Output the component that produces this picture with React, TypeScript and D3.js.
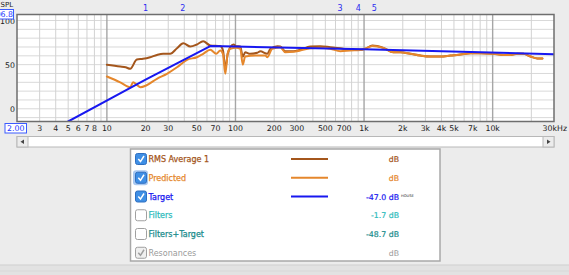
import React from 'react';
import * as d3 from 'd3';

// ---- data ----
const rmsFreq = [10, 12.7, 14, 15.2, 17.1, 19.1, 21.7, 24.5, 27.4, 31.1, 35.1, 39.3, 44.5, 50.1, 56.1, 63.7, 76.2, 80, 83.4, 87, 91.2, 96.6, 101, 109, 114, 119, 130, 148, 156, 177, 187, 212, 223, 244, 282, 319, 382, 457, 547, 654, 782, 935, 1023, 1161, 1414, 1690, 1916, 2291, 2742, 3281, 3925, 4696, 5617, 6723, 8046, 10140, 12130, 13750, 15580, 17340, 19680, 22300, 24380];
const rmsDb = [50, 48, 47, 45.3, 55.8, 56.6, 58.4, 61, 62.3, 62.3, 68.6, 74.3, 70.5, 72.8, 76.5, 71.7, 71, 66, 46, 62, 70, 72.8, 71, 70.5, 59, 64, 62.3, 63.4, 65.2, 62.3, 68, 70.9, 70.5, 65.2, 65.2, 66.8, 70.5, 70.9, 69.8, 68.6, 66.8, 66.8, 68, 71.7, 69, 64, 64, 62.3, 60.3, 59.2, 59.2, 60.3, 61.5, 63, 63, 62.3, 61, 61, 62.3, 62.3, 59.2, 57, 57];
const predFreq = [10, 12.7, 15.2, 16.0, 17.1, 18.2, 20.2, 24.5, 29.3, 35.1, 42, 50.1, 56.1, 63.7, 70.9, 76.2, 80, 83.4, 87, 91.2, 101, 109, 114, 119, 143, 171, 177, 193, 223, 244, 282, 319, 382, 457, 547, 654, 782, 935, 1023, 1161, 1414, 1690, 1916, 2291, 2742, 3281, 3925, 4696, 5617, 6723, 8046, 10140, 12130, 13750, 15580, 17340, 19680, 22300, 24380];
const predDb = [36.6, 30, 24.5, 30, 27, 24.5, 26.4, 34, 39.6, 47, 55.5, 58.4, 62.3, 66.8, 62.3, 66, 62, 39.6, 63, 68, 69, 68, 50, 59.2, 60.3, 60.3, 58.4, 68, 69.8, 64, 64.5, 66, 68.5, 69, 68, 65.2, 66, 66.5, 68, 71.2, 69, 64, 64, 62.3, 60.3, 59.2, 59.2, 60.3, 61.5, 63, 63, 62.3, 61, 61, 62.3, 62.3, 59.2, 57, 57];
const targetFreq = [5, 20, 63.7, 100, 1000, 30000];
const targetDb = [-14.4, 33, 71, 70.5, 67.3, 61.8];

const yDomain = [-14.4, 106.8];
const yLabels = [0, 50, 100];
const yGrid = [-10, 0, 10, 20, 30, 40, 50, 60, 70, 80, 90, 100];
const xTickVals = [3, 4, 5, 6, 7, 8, 10, 20, 30, 50, 70, 100, 200, 300, 500, 700, 1000, 2000, 3000, 4000, 5000, 7000, 10000];
const xTickText = ['3', '4', '5', '6', '7', '8', '10', '20', '30', '50', '70', '100', '200', '300', '500', '700', '1k', '2k', '3k', '4k', '5k', '7k', '10k'];
const markerFreqs = [20, 39, 650, 900, 1200];
const markerText = ['1', '2', '3', '4', '5'];

const legendNames = ['RMS Average 1', 'Predicted', 'Target', 'Filters', 'Filters+Target', 'Resonances'];
const legendValues = ['dB', 'dB', '-47.0 dB', '-1.7 dB', '-48.7 dB', 'dB'];
const legendChecked = [true, true, true, false, false, true];
const legendColors = ['#a4561c', '#e5872c', '#1818f0', '#2fbcbc', '#1a8c8c', '#9a9a9a'];
const legendHasLine = [true, true, true, false, false, false];

const FONT = '"DejaVu Sans", sans-serif';

export default function App() {
  const W = 569, H = 275;
  const L = 17, R = 554, T = 14.5, B = 121.5;
  const x = d3.scaleLog().domain([2, 30000]).range([L, R]);
  const y = d3.scaleLinear().domain(yDomain).range([B, T]);

  const minor: number[] = [];
  [1, 10, 100, 1000, 10000].forEach((d) => {
    for (let k = 1; k <= 9; k++) {
      const f = d * k;
      if (f > 2 && f < 30000) minor.push(f);
    }
  });
  const decades = [10, 100, 1000, 10000];

  const line = d3
    .line<[number, number]>()
    .x((d) => x(d[0]))
    .y((d) => y(d[1]))
    .curve(d3.curveMonotoneX);

  const rms = line(rmsFreq.map((f, i) => [f, rmsDb[i]]) as [number, number][]);
  const pred = line(predFreq.map((f, i) => [f, predDb[i]]) as [number, number][]);
  const tgt = d3
    .line<[number, number]>()
    .x((d) => x(d[0]))
    .y((d) => y(d[1]))(targetFreq.map((f, i) => [f, targetDb[i]]) as [number, number][]);

  const rowY = (i: number) => 159 + i * 18.75;

  return (
    <svg width={W} height={H} style={{ position: 'fixed', left: 0, top: 0 }} fontFamily={FONT}>
      <rect x={0} y={0} width={W} height={H} fill="#ececec" />
      <defs>
        <clipPath id="plotclip">
          <rect x={L} y={T} width={R - L} height={B - T} />
        </clipPath>
      </defs>
      {/* plot background */}
      <rect x={L} y={T} width={R - L} height={B - T} fill="#ffffff" />
      {/* horizontal grid */}
      {yGrid.map((v) => (
        <line key={'h' + v} x1={L} x2={R} y1={y(v)} y2={y(v)} stroke="#d9d9d9" strokeWidth={1} />
      ))}
      {/* vertical grid */}
      {minor.map((f) => (
        <line key={'v' + f} x1={x(f)} x2={x(f)} y1={T} y2={B} stroke={decades.includes(f) ? '#a6a6a6' : '#d2d2d2'} strokeWidth={decades.includes(f) ? 1.4 : 1} />
      ))}
      {/* curves */}
      <g clipPath="url(#plotclip)" fill="none" strokeLinejoin="round" strokeLinecap="round">
        <path d={rms || ''} stroke="#a4561c" strokeWidth={2} />
        <path d={pred || ''} stroke="#e5872c" strokeWidth={2} />
        <path d={tgt || ''} stroke="#1818f0" strokeWidth={2} />
      </g>
      {/* border */}
      <rect x={L} y={T} width={R - L} height={B - T} fill="none" stroke="#6e6e6e" strokeWidth={1.5} />

      {/* y labels */}
      {yLabels.map((v) => (
        <text key={'yl' + v} x={15} y={y(v) + 3} textAnchor="end" fontSize={7.8} fill="#222">
          {v}
        </text>
      ))}
      <text x={0.5} y={7} fontSize={7} fill="#222">SPL</text>
      <rect x={-2} y={9.5} width={15.5} height={9.5} fill="#ffffff" stroke="#3b5bff" strokeWidth={1} />
      <text x={13} y={17.3} textAnchor="end" fontSize={7.8} fill="#2236ff">106.8</text>

      {/* marker numbers */}
      {markerFreqs.map((f, i) => (
        <text key={'m' + i} x={x(f)} y={10.5} textAnchor="middle" fontSize={8} fill="#2b2bf0">
          {markerText[i]}
        </text>
      ))}

      {/* x labels */}
      <rect x={5} y={123.5} width={21.5} height={9.5} fill="#ffffff" stroke="#3b5bff" strokeWidth={1} />
      <text x={15.8} y={131.4} textAnchor="middle" fontSize={7.8} fill="#2236ff">2.00</text>
      {xTickVals.map((f, i) => (
        <text key={'xl' + f} x={x(f)} y={131.4} textAnchor="middle" fontSize={7.8} fill="#222">
          {xTickText[i]}
        </text>
      ))}
      <text x={567} y={131.4} textAnchor="end" fontSize={7.8} fill="#222">30kHz</text>

      {/* scrollbar */}
      <rect x={17} y={136.5} width={537} height={10.5} fill="#ffffff" stroke="#b8b8b8" strokeWidth={1} />
      <rect x={17} y={136.5} width={11} height={10.5} fill="#ececec" stroke="#b8b8b8" strokeWidth={1} />
      <path d="M20.5,141.75 L24,139.5 L24,144 Z" fill="#444" />
      <rect x={543} y={136.5} width={11} height={10.5} fill="#ececec" stroke="#b8b8b8" strokeWidth={1} />
      <path d="M550.5,141.75 L547,139.5 L547,144 Z" fill="#444" />

      {/* legend panel */}
      <rect x={130.5} y={149} width={309.5} height={112} fill="#ffffff" stroke="#a8a8a8" strokeWidth={1.5} />
      {legendNames.map((name, i) => {
        const cy = rowY(i);
        const c = legendColors[i];
        const checked = legendChecked[i];
        const disabled = i === 5;
        return (
          <g key={'lg' + i}>
            {i === 1 && (
              <rect x={133} y={cy - 7.5} width={15} height={15} rx={3} fill="#a9c8f0" />
            )}
            <rect
              x={135.5}
              y={cy - 5.5}
              width={11}
              height={11}
              rx={2}
              fill={checked && !disabled ? '#3f8fe5' : disabled ? '#f0f0f0' : '#ffffff'}
              stroke={checked && !disabled ? '#2f6fc0' : '#a0a0a0'}
              strokeWidth={1}
            />
            {checked && (
              <path
                d={`M138.3,${cy} L140.5,${cy + 2.6} L144,${cy - 3}`}
                fill="none"
                stroke={disabled ? '#a0a0a0' : '#ffffff'}
                strokeWidth={1.5}
              />
            )}
            <text x={148.5} y={cy + 3} fontSize={8} fill={c} stroke={disabled ? 'none' : c} strokeWidth={0.25}>
              {name}
            </text>
            {legendHasLine[i] && <line x1={291} x2={328} y1={cy} y2={cy} stroke={c} strokeWidth={2} />}
            <text x={399} y={cy + 3} textAnchor="end" fontSize={7.8} fill={c} stroke={disabled ? 'none' : c} strokeWidth={0.2}>
              {legendValues[i]}
            </text>
            {i === 2 && (
              <text x={401} y={cy} fontSize={3.6} fill="#222">HOUSE</text>
            )}
          </g>
        );
      })}

      {/* bottom band */}
      <rect x={0} y={265} width={W} height={10} fill="#e2e2e2" />
      <line x1={0} x2={W} y1={265} y2={265} stroke="#cfcfcf" strokeWidth={1} />
      <line x1={0} x2={W} y1={271} y2={271} stroke="#d8d8d8" strokeWidth={1} />
    </svg>
  );
}
